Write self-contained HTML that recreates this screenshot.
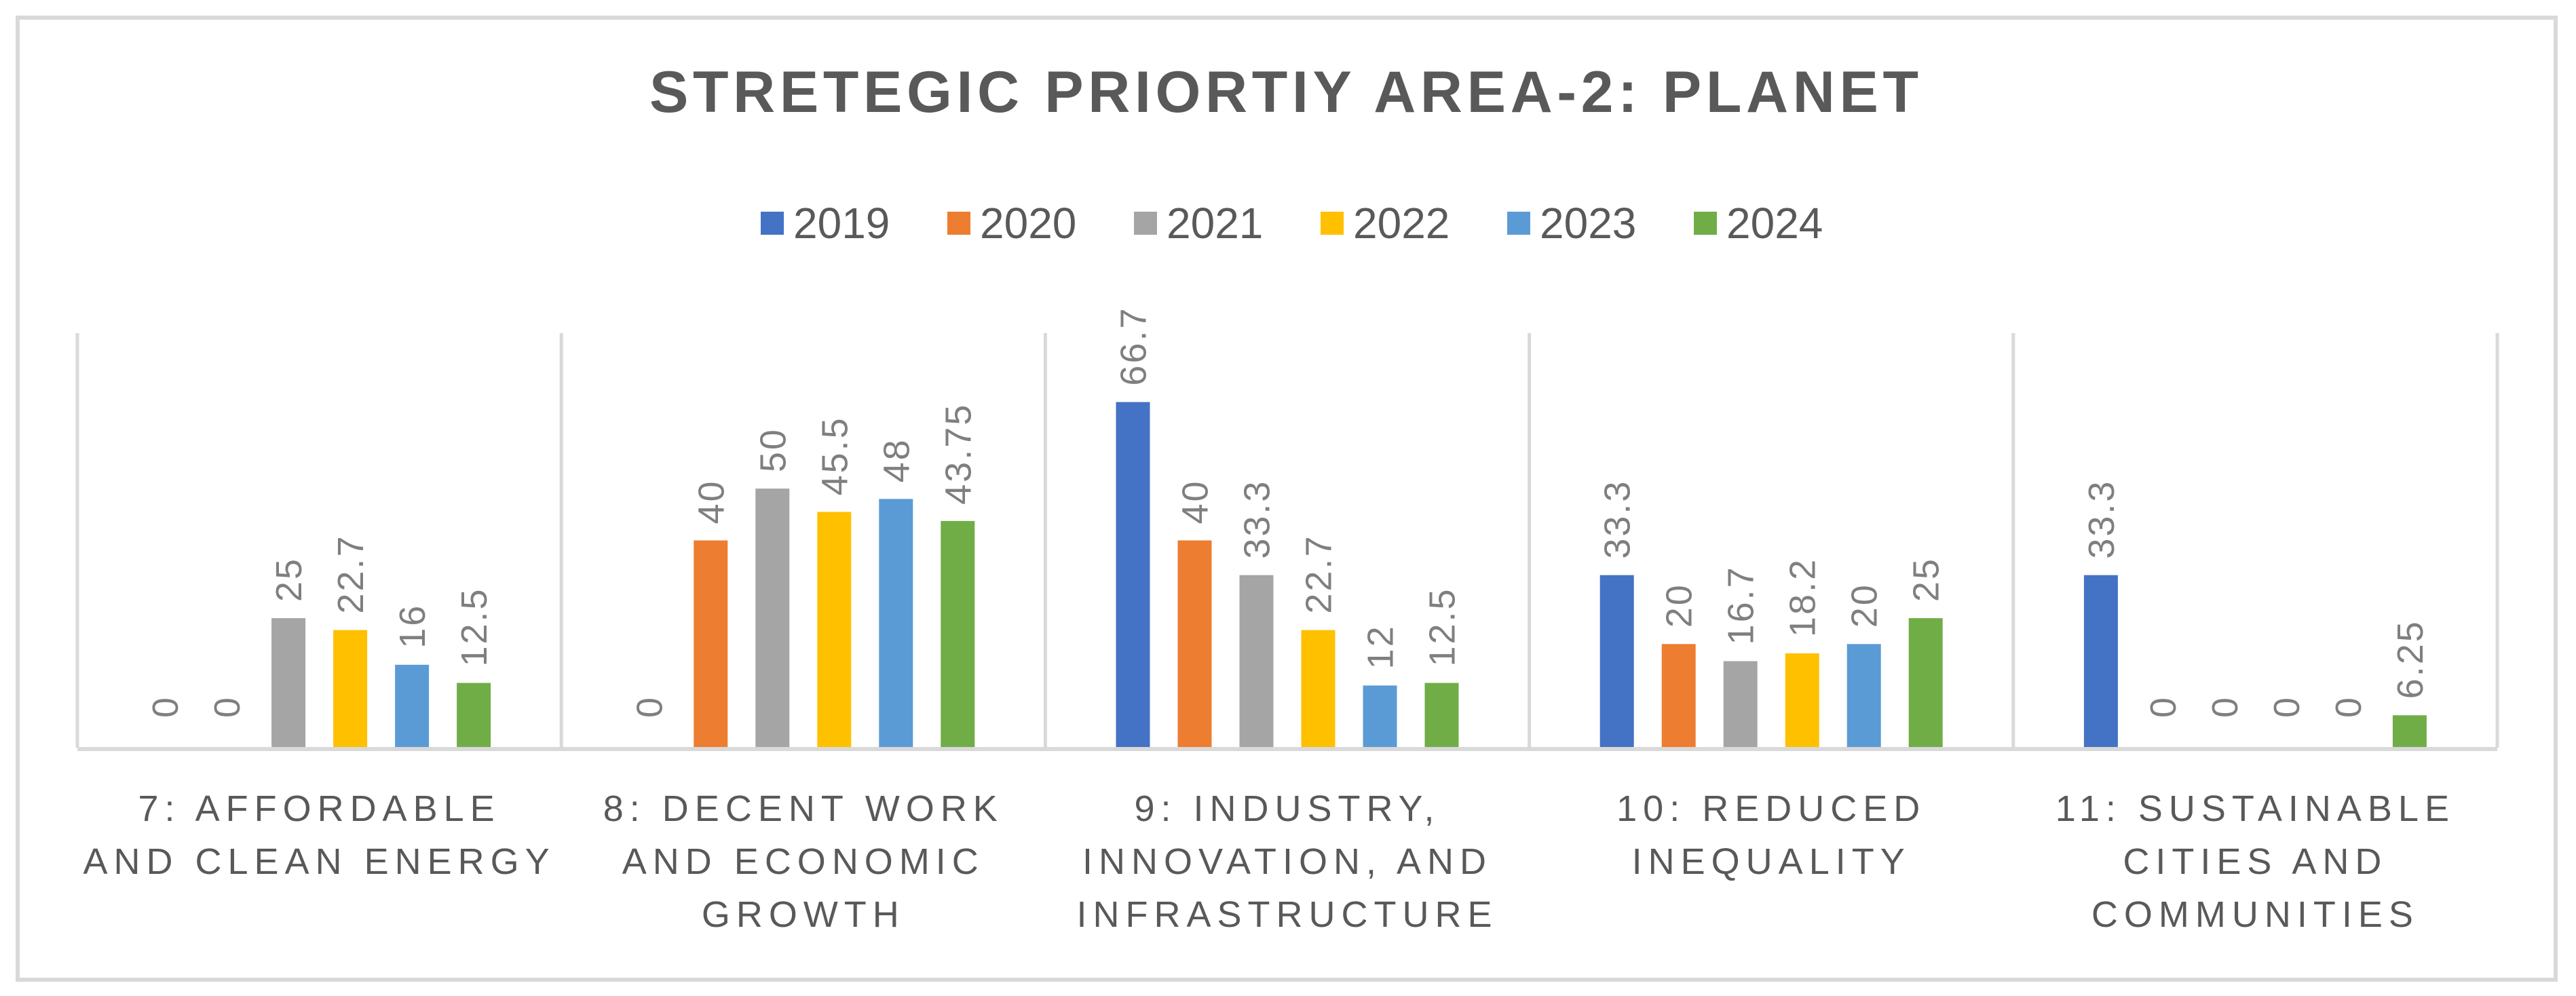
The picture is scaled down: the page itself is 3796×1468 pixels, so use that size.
<!DOCTYPE html>
<html><head><meta charset="utf-8"><style>
html,body{margin:0;padding:0;background:#fff;}
svg{display:block;font-family:"Liberation Sans",sans-serif;}
</style></head><body>
<svg id="chart" width="3796" height="1468" viewBox="0 0 3796 1468" xmlns="http://www.w3.org/2000/svg">
<rect x="26" y="26" width="3740" height="1418" fill="#fff" stroke="#d9d9d9" stroke-width="6"/>
<text x="1892" y="165" text-anchor="middle" font-size="86" font-weight="bold" fill="#595959" textLength="1870" lengthAdjust="spacing">STRETEGIC PRIORTIY AREA-2: PLANET</text>
<g id="legend"></g>
<g id="grid"></g>
<g id="bars"></g>
<g id="labels"></g>
<g id="xaxis"></g>
</svg>
<script>
const categories = [
  ["7: AFFORDABLE","AND CLEAN ENERGY"],
  ["8: DECENT WORK","AND ECONOMIC","GROWTH"],
  ["9: INDUSTRY,","INNOVATION, AND","INFRASTRUCTURE"],
  ["10: REDUCED","INEQUALITY"],
  ["11: SUSTAINABLE","CITIES AND","COMMUNITIES"]
];
const seriesNames = ["2019","2020","2021","2022","2023","2024"];
const s2019 = [0, 0, 66.7, 33.3, 33.3];
const s2020 = [0, 40, 40, 20, 0];
const s2021 = [25, 50, 33.3, 16.7, 0];
const s2022 = [22.7, 45.5, 22.7, 18.2, 0];
const s2023 = [16, 48, 12, 20, 0];
const s2024 = [12.5, 43.75, 12.5, 25, 6.25];
const yMax = 80;

const series = [s2019, s2020, s2021, s2022, s2023, s2024];
const colors = ["#4472C4","#ED7D31","#A5A5A5","#FFC000","#5B9BD5","#70AD47"];
const NS = "http://www.w3.org/2000/svg";
const L = 114, R = 3680, T = 491, B = 1102;
const catW = (R - L) / categories.length;
const barW = 50, step = 91;
const y = v => B - (v / yMax) * (B - T);
const xBar = (ci, si) => L + ci * catW + (catW - (step * (series.length - 1) + barW)) / 2 + si * step;
function mk(tag, attrs, parent) { const e = document.createElementNS(NS, tag); for (const k in attrs) e.setAttribute(k, attrs[k]); parent.appendChild(e); return e; }

const grid = document.getElementById('grid');
for (let i = 0; i <= categories.length; i++) {
  const gl = mk('line', {x1: L + i * catW, x2: L + i * catW, y1: T, y2: B, stroke: "#d9d9d9", "stroke-width": 5}, grid);
  
  
}
const bars = document.getElementById('bars');
const labels = document.getElementById('labels');
categories.forEach((c, ci) => {
  series.forEach((s, si) => {
    const v = s[ci];
    const x = xBar(ci, si);
    if (v > 0) {
      const r = mk('rect', {x: x, y: y(v), width: barW, height: B - y(v), fill: colors[si]}, bars);
      
      
    }
    const ly = v > 0 ? y(v) - 24 : B - 44;
    const t = mk('text', {x: 0, y: 0, transform: `translate(${x + barW / 2 + 19},${ly}) rotate(-90)`, "font-size": 54, fill: "#7f7f7f", "letter-spacing": 3}, labels);
    t.textContent = String(v);
    
    
  });
});
const xa = document.getElementById('xaxis');
const base = mk('line', {x1: L, x2: R, y1: B + 2, y2: B + 2, stroke: "#d9d9d9", "stroke-width": 6}, xa);


categories.forEach((lines, ci) => {
  lines.forEach((ln, li) => {
    const t = mk('text', {x: L + ci * catW + catW / 2, y: 1210 + li * 78, "text-anchor": "middle", "font-size": 54, fill: "#595959", "letter-spacing": 9}, xa);
    t.textContent = ln;
    
    
  });
});
const lg = document.getElementById('legend');
seriesNames.forEach((n, i) => {
  const x = 1121 + i * 275;
  const sq = mk('rect', {x: x, y: 312, width: 34, height: 34, fill: colors[i]}, lg);
  
  
  const t = mk('text', {x: x + 48, y: 351, "font-size": 64, fill: "#595959"}, lg);
  t.textContent = n;
  
  
});
</script>
</body></html>
